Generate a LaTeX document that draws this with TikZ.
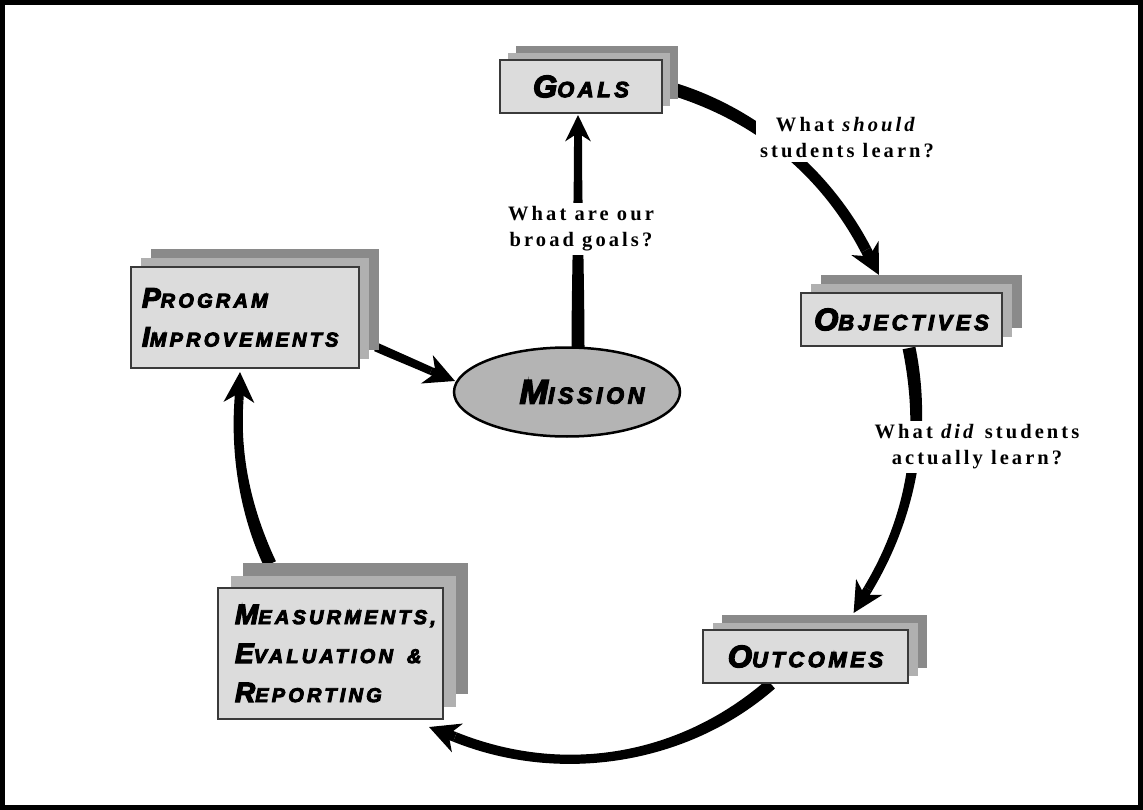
\documentclass[tikz,border=0pt]{standalone}
\usepackage{fontspec}
\usetikzlibrary{calc,arrows.meta,shapes.geometric}
\newfontfamily\boxfont{Liberation Sans}[LetterSpace=16,BoldItalicFeatures={FakeBold=4.5}]
\newfontfamily\labfont{Liberation Serif}[LetterSpace=15]
\definecolor{frontgray}{HTML}{DCDCDC}
\definecolor{laytwo}{HTML}{B0B0B0}
\definecolor{laythree}{HTML}{8A8A8A}
\definecolor{missiongray}{HTML}{B4B4B4}
\definecolor{boxline}{HTML}{3A3A3A}
\newcommand\bxa[2]{{\fontsize{31}{39}\selectfont #1}{\fontsize{22}{39}\selectfont #2}}
\newcommand\bxb[2]{{\fontsize{28}{39}\selectfont #1}{\fontsize{20}{39}\selectfont #2}}
\newcommand\taper[6]{\fill ($(#1)!#5!90:(#2)$) .. controls ($(#2)!#5!-90:(#1)$) and ($(#3)!#6!90:(#4)$) .. ($(#4)!#6!-90:(#3)$) -- ($(#4)!#6!90:(#3)$) .. controls ($(#3)!#6!-90:(#4)$) and ($(#2)!#5!90:(#1)$) .. ($(#1)!#5!-90:(#2)$) -- cycle;}
% #1 opts, #2 name, #3 cx, #4 cy, #5 w, #6 h, #7 dx, #8 dy, #9 text
\newcommand\stackbox[9]{%
  \fill[laythree] ({#3-#5/2+2*(#7)},{#4-#6/2+2*(#8)}) rectangle ({#3+#5/2+2*(#7)},{#4+#6/2+2*(#8)});
  \fill[laytwo] ({#3-#5/2+(#7)},{#4-#6/2+(#8)}) rectangle ({#3+#5/2+(#7)},{#4+#6/2+(#8)});
  \node[frontbox,minimum width=#5pt,minimum height=#6pt,#1] (#2) at (#3,#4) {#9};}
\tikzset{
  frontbox/.style={draw=boxline,line width=1.2pt,fill=frontgray,inner sep=0pt,
    font=\boxfont\bfseries\itshape\fontsize{20}{39}\selectfont,align=center},
  qlabel/.style={fill=white,inner sep=4pt,align=center,
    font=\labfont\bfseries\fontsize{20.5}{26}\selectfont},
  headbig/.style={-{Stealth[length=30pt,width=30pt,inset=9pt]}},
  headsmall/.style={-{Stealth[length=26pt,width=25pt,inset=8pt]}}
}
\begin{document}
\begin{tikzpicture}[x=1pt,y=-1pt]
\useasboundingbox (0,0) rectangle (1143,810);
\draw[line width=4.5pt] (2.5,2.5) rectangle (1140.5,807.5);

% arrow coordinates
\coordinate (a0) at (676,90);  \coordinate (a1) at (758,116);
\coordinate (a2) at (826,173); \coordinate (a3) at (866,250);
\coordinate (at) at (879,275);
\coordinate (b0) at (909,348); \coordinate (b1) at (926,431);
\coordinate (b2) at (913,514); \coordinate (b3) at (868,589);
\coordinate (bt) at (853.6,613);
\coordinate (c0) at (771,684); \coordinate (c1) at (684,760);
\coordinate (c2) at (562,780); \coordinate (c3) at (455,737);
\coordinate (ct) at (429,727);
\coordinate (d0) at (270,564); \coordinate (d1) at (246,513);
\coordinate (d2) at (235,456); \coordinate (d3) at (239,400);
\coordinate (dt) at (240,372);
\coordinate (e0) at (376,347); \coordinate (e1) at (394,355);
\coordinate (e2) at (413,363); \coordinate (e3) at (431,371);
\coordinate (et) at (455,381);
\coordinate (f0) at (578,352); \coordinate (f1) at (578,280);
\coordinate (f2) at (578,210); \coordinate (f3) at (578,140);
\coordinate (ft) at (578,115);

% arrow bodies
\taper{a0}{a1}{a2}{a3}{6.5pt}{5.5pt}
\draw[line width=11pt,headbig] (a3) -- (at);
\taper{b0}{b1}{b2}{b3}{6.5pt}{4.5pt}
\draw[line width=9pt,headbig] (b3) -- (bt);
\taper{c0}{c1}{c2}{c3}{6pt}{5pt}
\draw[line width=10pt,headbig] (c3) -- (ct);
\taper{d0}{d1}{d2}{d3}{6.5pt}{4.5pt}
\draw[line width=9pt,headbig] (d3) -- (dt);
\taper{e0}{e1}{e2}{e3}{4.5pt}{4pt}
\draw[line width=8pt,headbig] (e3) -- (et);
\taper{f0}{f1}{f2}{f3}{6.5pt}{4pt}
\draw[line width=8pt,headsmall] (f3) -- (ft);

% boxes
\stackbox{}{goals}{581}{86.5}{162}{53}{8}{-7}{\bxa{G}{OALS}}
\stackbox{}{objectives}{901.5}{319.5}{201}{53}{10}{-9}{\bxa{O}{BJECTIVES}}
\stackbox{align=left,text width=206pt,inner xsep=11pt}{program}{245}{317.5}{228}{101}{10}{-9}{\bxb{P}{ROGRAM}\\\bxb{I}{MPROVEMENTS}}
\stackbox{align=left,text width=191pt,inner xsep=17pt}{measure}{330.5}{653.5}{225}{131}{12.5}{-12.5}{\bxb{M}{EASURMENTS,}\\\bxb{E}{VALUATION\hspace{14pt}\&}\\\bxb{R}{EPORTING}}
\stackbox{}{outcomes}{805.5}{656.5}{205}{53}{9.5}{-7.5}{\bxa{O}{UTCOMES}}

\node[ellipse,draw=black,line width=2.5pt,fill=missiongray,minimum width=226pt,minimum height=89pt,inner sep=0pt,
  font=\boxfont\bfseries\itshape] (mission) at (567,392)
  {\hspace*{30pt}{\fontsize{34}{36}\selectfont M}{\fontsize{23}{36}\selectfont ISSION}};

% labels
\node[qlabel] (q1) at (581,229) {What are our\\broad goals?};
\node[qlabel] (q2) at (847,138) {What \textit{should}\\students learn?};
\node[qlabel] (q3) at (977,447) {What \textit{did} students\\actually learn?};
\end{tikzpicture}
\end{document}
